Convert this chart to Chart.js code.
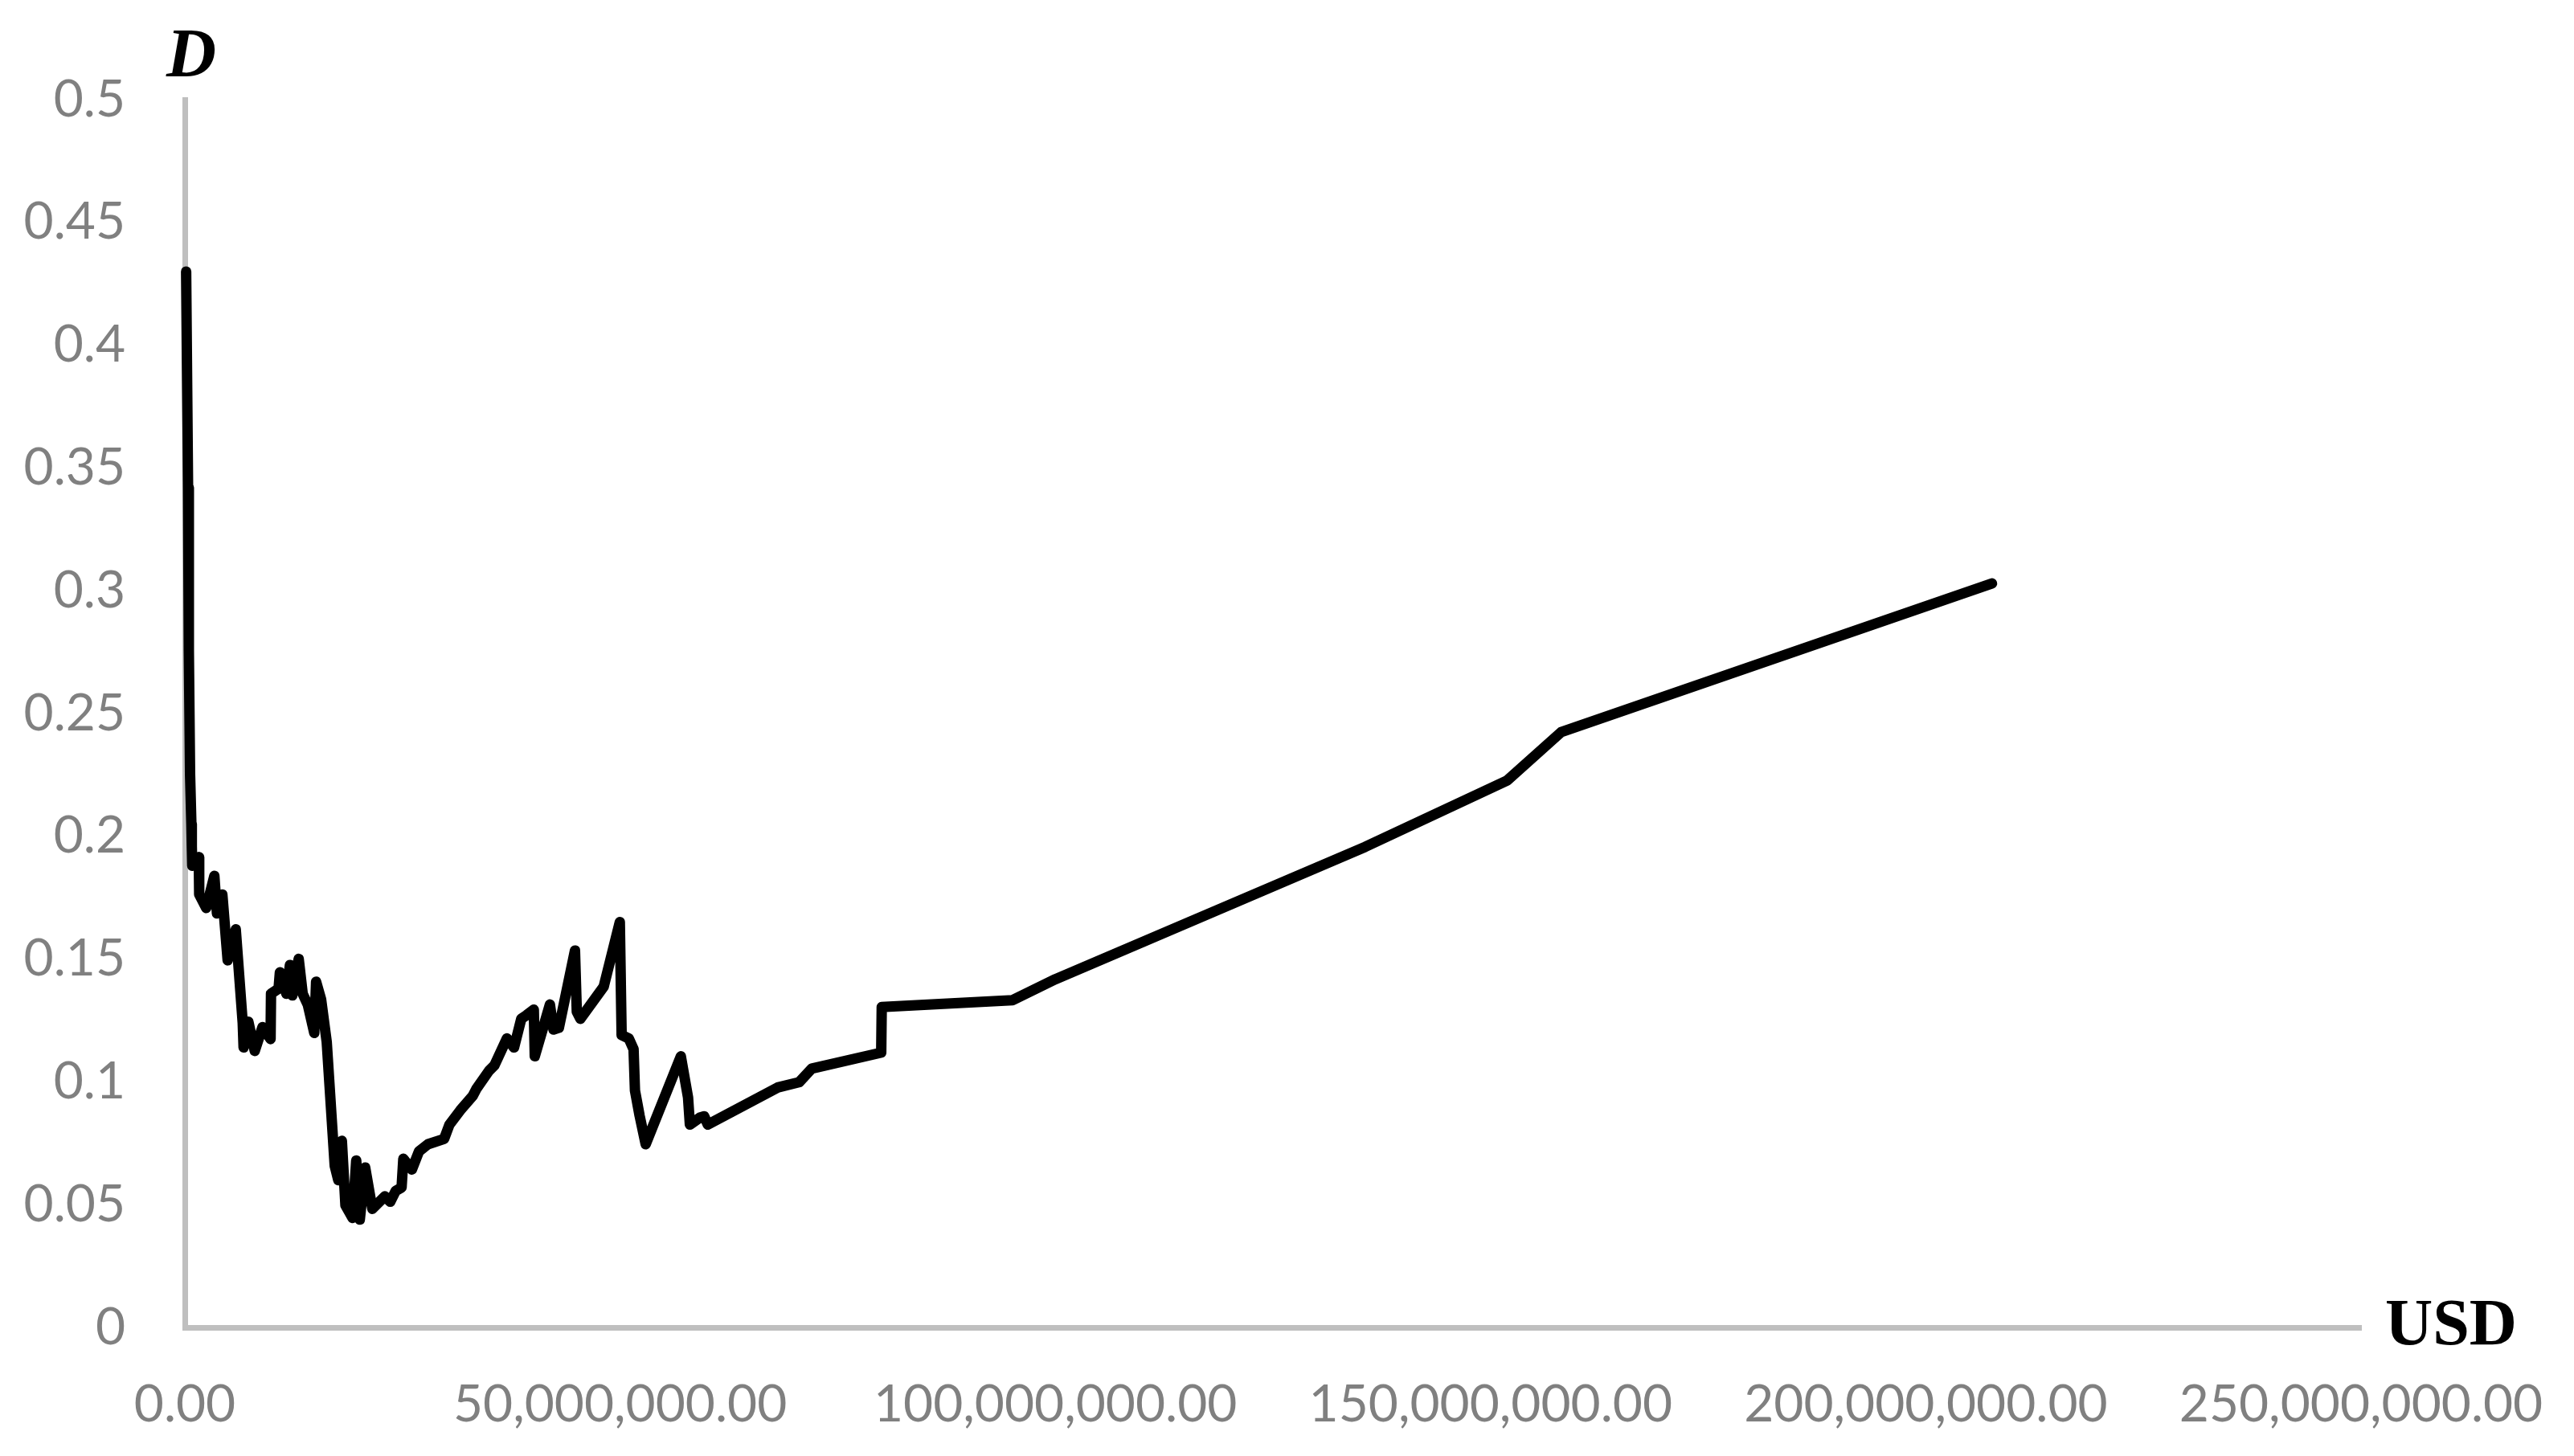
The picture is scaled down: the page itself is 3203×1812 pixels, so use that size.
<!DOCTYPE html>
<html>
<head>
<meta charset="utf-8">
<title>D vs USD</title>
<script src="https://cdn.jsdelivr.net/npm/chart.js@4.4.1/dist/chart.umd.min.js"></script>
<style>
    html, body { margin: 0; padding: 0; background: #fff; }
    #chart { display: block; }
</style>
</head>
<body>
<canvas id="chart" width="3203" height="1812"></canvas>
<script>
// amounts in millions of USD
const usdMillions = [
    0.15, 0.37, 0.46, 0.6, 0.75, 0.8, 0.85, 1.6, 1.65, 2.46,
    3.39, 3.69, 4.31, 4.92, 5.85, 6.65, 6.75, 7.3, 8.03, 8.92,
    9.85, 9.9, 10.77, 10.92, 11.66, 12.07, 12.35, 13.08, 13.54, 14.12,
    14.87, 15.08, 15.65, 16.3, 17.22, 17.63, 18.04, 18.45, 19.27, 19.69,
    20.1, 20.72, 21.54, 22.98, 23.6, 24.22, 24.9, 25.1, 26.08, 26.9,
    27.93, 29.79, 30.4, 31.64, 33.08, 33.5, 34.94, 35.56, 37.0, 37.82,
    38.65, 39.27, 40.09, 40.2, 41.94, 42.35, 42.97, 44.82, 45.03, 45.44,
    48.12, 49.97, 50.18, 51.0, 51.55, 51.71, 52.24, 52.94, 56.98, 57.81,
    58.02, 59.2, 59.66, 60.08, 68.1, 70.58, 72.02, 80.0, 80.06, 95.1,
    100.0, 135.6, 151.9, 158.1, 207.6
];
const dValues = [
    0.430, 0.342, 0.2755, 0.2255, 0.205, 0.196, 0.188, 0.1915, 0.1764, 0.1708,
    0.1839, 0.1686, 0.1763, 0.1495, 0.1621, 0.124, 0.114, 0.1245, 0.1126, 0.1223,
    0.1174, 0.1359, 0.138, 0.1446, 0.1359, 0.1476, 0.1352, 0.1501, 0.1359, 0.1315,
    0.1199, 0.1408, 0.1337, 0.1163, 0.0658, 0.06, 0.076, 0.0497, 0.0446, 0.068,
    0.0439, 0.0651, 0.0483, 0.0534, 0.0512, 0.0556, 0.057, 0.0687, 0.0643, 0.0717,
    0.0746, 0.0768, 0.0826, 0.0884, 0.0943, 0.0972, 0.1045, 0.1067, 0.1177, 0.114,
    0.1257, 0.1272, 0.1294, 0.1104, 0.1315, 0.1213, 0.122, 0.1535, 0.1286, 0.1257,
    0.1388, 0.1651, 0.1191, 0.1177, 0.1133, 0.0965, 0.0863, 0.0746, 0.1104, 0.0936,
    0.0826, 0.0855, 0.086, 0.0826, 0.0977, 0.0999, 0.1054, 0.1119, 0.1305, 0.1333,
    0.1418, 0.1957, 0.2227, 0.2424, 0.303
];

const xTicks = [0, 50e6, 100e6, 150e6, 200e6, 250e6];
const yTicks = [0, 0.05, 0.1, 0.15, 0.2, 0.25, 0.3, 0.35, 0.4, 0.45, 0.5];

const yTitle = 'D';
const xTitle = 'USD';

const points = usdMillions.map((m, i) => ({ x: m * 1e6, y: dValues[i] }));

const tickFont = { family: "Lato, 'Open Sans', sans-serif", size: 64 };
const tickColor = '#808080';
const axisColor = '#bfbfbf';

// axis titles sit at the ends of the axes
const axisTitles = {
    id: 'axisTitles',
    afterDraw(chart) {
        const ctx = chart.ctx;
        const area = chart.chartArea;
        ctx.save();
        ctx.fillStyle = '#000';
        ctx.textAlign = 'center';
        ctx.textBaseline = 'alphabetic';
        ctx.font = "italic bold 86px 'Liberation Serif', 'Times New Roman', serif";
        ctx.fillText(yTitle, area.left + 8, area.top - 29);
        ctx.font = "bold 82px 'Liberation Serif', 'Times New Roman', serif";
        ctx.fillText(xTitle, area.right + 112, area.bottom + 21);
        ctx.restore();
    }
};

new Chart(document.getElementById('chart'), {
    type: 'line',
    data: {
        datasets: [{
            data: points,
            borderColor: '#000',
            borderWidth: 13,
            borderJoinStyle: 'round',
            borderCapStyle: 'round',
            pointRadius: 0,
            tension: 0,
            fill: false,
            clip: false
        }]
    },
    options: {
        responsive: false,
        animation: false,
        layout: {
            padding: { top: 124, right: 265, left: 0, bottom: 0 }
        },
        plugins: {
            legend: { display: false },
            tooltip: { enabled: false }
        },
        scales: {
            x: {
                type: 'linear',
                min: 0,
                max: 250e6,
                afterBuildTicks: (scale) => {
                    scale.ticks = xTicks.map(v => ({ value: v }));
                },
                afterFit: (scale) => {
                    scale.height = 160;
                    // let the layout padding alone decide where the axis ends
                    scale.paddingLeft = 0;
                    scale.paddingRight = 0;
                },
                grid: { display: false, drawTicks: false },
                border: { display: true, color: axisColor, width: 7 },
                ticks: {
                    font: tickFont,
                    color: tickColor,
                    padding: 58,
                    maxRotation: 0,
                    autoSkip: false,
                    callback: (v) => v.toLocaleString('en-US', { minimumFractionDigits: 2, maximumFractionDigits: 2 })
                }
            },
            y: {
                min: 0,
                max: 0.5,
                afterBuildTicks: (scale) => {
                    scale.ticks = yTicks.map(v => ({ value: v }));
                },
                afterFit: (scale) => { scale.width = 230; },
                grid: { display: false, drawTicks: false },
                border: { display: true, color: axisColor, width: 7 },
                ticks: {
                    font: tickFont,
                    color: tickColor,
                    padding: 74,
                    autoSkip: false,
                    callback: (v) => String(Number(v.toFixed(2)))
                }
            }
        }
    },
    plugins: [axisTitles]
});
</script>
</body>
</html>
